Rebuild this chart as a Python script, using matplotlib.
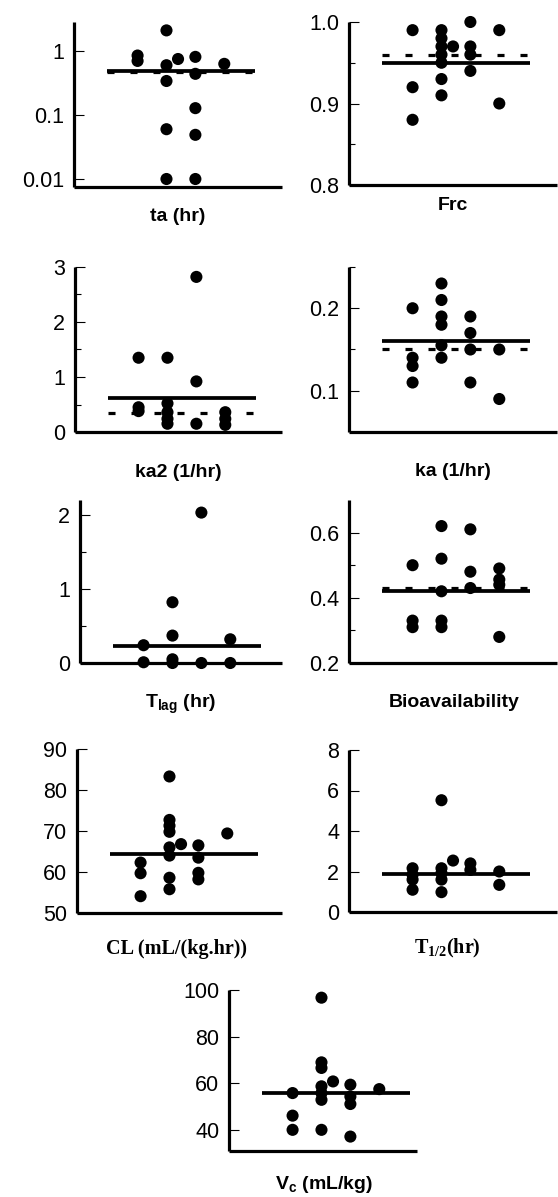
import matplotlib
matplotlib.use("Agg")
import matplotlib.pyplot as plt
from matplotlib.ticker import FixedLocator, NullLocator, FormatStrFormatter

plt.rcParams['font.family'] = ['Liberation Sans', 'DejaVu Sans']
plt.rcParams['mathtext.fontset'] = 'custom'
plt.rcParams['mathtext.rm'] = 'Liberation Serif:bold'
plt.rcParams['mathtext.bf'] = 'Liberation Sans:bold'

# ---- individual estimates (column index, value) and group lines ----
ta_x = [1, 1, 2, 2, 2, 2, 2, 2.4, 3, 3, 3, 3, 3, 4]
ta_y = [0.85, 0.70, 2.1, 0.60, 0.34, 0.06, 0.01, 0.75, 0.81, 0.44, 0.128, 0.049, 0.01, 0.63]
ta_solid, ta_dash = 0.49, 0.47

frc_x = [1, 1, 1, 2, 2, 2, 2, 2, 2, 2, 2.4, 3, 3, 3, 3, 4, 4]
frc_y = [0.99, 0.92, 0.88, 0.99, 0.98, 0.97, 0.96, 0.95, 0.93, 0.91, 0.97,
         1.0, 0.97, 0.96, 0.94, 0.99, 0.90]
frc_solid, frc_dash = 0.95, 0.96

ka2_x = [1, 1, 1, 2, 2, 2, 2, 2, 3, 3, 3, 4, 4, 4]
ka2_y = [1.35, 0.45, 0.38, 1.35, 0.52, 0.36, 0.24, 0.15, 2.82, 0.92, 0.15, 0.36, 0.24, 0.13]
ka2_solid, ka2_dash = 0.61, 0.35

ka_x = [1, 1, 1, 1, 2, 2, 2, 2, 2, 2, 3, 3, 3, 3, 4, 4]
ka_y = [0.20, 0.14, 0.13, 0.11, 0.23, 0.21, 0.19, 0.18, 0.155, 0.14,
        0.19, 0.17, 0.15, 0.11, 0.15, 0.09]
ka_solid, ka_dash = 0.16, 0.15

tlag_x = [1, 1, 2, 2, 2, 2, 3, 3, 4, 4]
tlag_y = [0.24, 0.01, 0.82, 0.37, 0.05, 0.0, 2.03, 0.0, 0.32, 0.0]
tlag_solid = 0.225

bio_x = [1, 1, 1, 2, 2, 2, 2, 2, 3, 3, 3, 4, 4, 4, 4]
bio_y = [0.50, 0.33, 0.31, 0.62, 0.52, 0.42, 0.33, 0.31, 0.61, 0.48, 0.43,
         0.49, 0.456, 0.44, 0.28]
bio_solid, bio_dash = 0.42, 0.43

cl_x = [1, 1, 1, 2, 2, 2, 2, 2, 2, 2, 2, 2.4, 3, 3, 3, 3, 4]
cl_y = [62.3, 59.7, 54.1, 83.3, 72.7, 71.3, 69.8, 66.0, 64.0, 58.6, 55.8,
        66.8, 66.5, 63.5, 59.8, 58.2, 69.4]
cl_solid = 64.5

th_x = [1, 1, 1, 1, 2, 2, 2, 2, 2, 2.4, 3, 3, 4, 4]
th_y = [2.16, 1.84, 1.6, 1.1, 5.52, 2.16, 1.92, 1.6, 0.98, 2.54, 2.4, 2.08, 2.0, 1.34]
th_solid = 1.89

vc_x = [1, 1, 1, 2, 2, 2, 2, 2, 2, 2, 2.4, 3, 3, 3, 3, 4]
vc_y = [55.7, 46.0, 39.9, 96.7, 68.9, 66.5, 58.6, 55.7, 52.8, 39.9,
        60.7, 59.3, 54.2, 51.0, 37.0, 57.4]
vc_solid = 55.7

W, H = 558, 1197
fig = plt.figure(figsize=(W / 100, H / 100), dpi=100)
fig.patch.set_facecolor('white')

PX_PER_UNIT = 28.9
X0 = -1.2


def px_rect(l, t, r, b):
    return [l / W, 1 - b / H, (r - l) / W, (b - t) / H]


def panel(rect, xs, ys, ylim, solid, dash=None, log=False,
          major=None, minor=None, labels=None, fmt=None):
    l, t, r, b = rect
    ax = fig.add_axes(px_rect(l, t, r, b))
    if log:
        ax.set_yscale('log')
    ax.set_xlim(X0, X0 + (r - l) / PX_PER_UNIT)
    ax.set_ylim(*ylim)
    for s in ('top', 'right'):
        ax.spines[s].set_visible(False)
    for s in ('left', 'bottom'):
        ax.spines[s].set_linewidth(2.3)
        ax.spines[s].set_capstyle('butt')
    ax.xaxis.set_major_locator(NullLocator())
    ax.xaxis.set_minor_locator(NullLocator())
    ax.yaxis.set_major_locator(FixedLocator(major))
    ax.yaxis.set_minor_locator(FixedLocator(minor) if minor else NullLocator())
    if labels is not None:
        ax.set_yticklabels(labels)
    elif fmt:
        ax.yaxis.set_major_formatter(FormatStrFormatter(fmt))
    ax.tick_params(axis='y', which='major', direction='in', length=7,
                   width=0.8, labelsize=15.5, pad=7)
    ax.tick_params(axis='y', which='minor', direction='in', length=4, width=0.8)
    ax.scatter(xs, ys, s=76, color='black', edgecolors='none', zorder=3,
               clip_on=False)
    ax.plot([-0.05, 5.05], [solid, solid], color='black', lw=2.7,
            solid_capstyle='butt', zorder=4)
    if dash is not None:
        ax.plot([-0.05, 5.05], [dash, dash], color='black', lw=2.3,
                dashes=(2.2, 5.0), dash_capstyle='butt', zorder=4)
    return ax


def label(x, y, s, **kw):
    fig.text(x / W, 1 - y / H, s, ha='center', va='baseline', **kw)


bold_sans = dict(fontsize=14, fontweight='bold', family=['Liberation Sans', 'DejaVu Sans'])
bold_serif = dict(fontsize=14.5, fontweight='bold', family=['Liberation Serif', 'DejaVu Serif'])

panel((74, 22, 282, 187), ta_x, ta_y, (0.0075, 2.84), ta_solid, ta_dash, log=True,
      major=[0.01, 0.1, 1], labels=['0.01', '0.1', '1'])
label(178, 221, 'ta (hr)', **bold_sans)

panel((349, 22, 557, 185), frc_x, frc_y, (0.8, 1.0), frc_solid, frc_dash,
      major=[0.8, 0.9, 1.0], minor=[0.85, 0.95], fmt='%.1f')
label(453, 210, 'Frc', **bold_sans)

panel((75, 267, 282, 432), ka2_x, ka2_y, (0, 3), ka2_solid, ka2_dash,
      major=[0, 1, 2, 3], minor=[0.5, 1.5, 2.5], fmt='%d')
label(178, 477, 'ka2 (1/hr)', **bold_sans)

panel((349, 267, 557, 432), ka_x, ka_y, (0.05, 0.25), ka_solid, ka_dash,
      major=[0.1, 0.2], minor=[0.15, 0.25], fmt='%.1f')
label(453, 476, 'ka (1/hr)', **bold_sans)

panel((80, 500, 282, 663), tlag_x, tlag_y, (0, 2.2), tlag_solid,
      major=[0, 1, 2], minor=[0.5, 1.5], fmt='%d')
label(181, 708, r'$\mathbf{T}_{\mathbf{lag}}$ (hr)', **bold_sans)

panel((349, 500, 557, 663), bio_x, bio_y, (0.2, 0.7), bio_solid, bio_dash,
      major=[0.2, 0.4, 0.6], minor=[0.3, 0.5], fmt='%.1f')
label(454, 707, 'Bioavailability', **bold_sans)

panel((77, 749, 282, 913), cl_x, cl_y, (50, 90), cl_solid,
      major=[50, 60, 70, 80, 90], fmt='%d')
label(176, 954, 'CL (mL/(kg.hr))', **bold_serif)

panel((349, 750, 557, 912), th_x, th_y, (0, 8), th_solid,
      major=[0, 2, 4, 6, 8], fmt='%d')
label(447, 953, r'$\mathrm{T}_{\mathrm{1/2}}$(hr)', **bold_serif)

panel((229, 990, 417, 1151), vc_x, vc_y, (30.8, 100), vc_solid,
      major=[40, 60, 80, 100], fmt='%d')
label(324, 1189, r'$\mathbf{V}_{\mathbf{c}}$ (mL/kg)', **bold_sans)

fig.savefig('out.png', dpi=100, facecolor='white')
